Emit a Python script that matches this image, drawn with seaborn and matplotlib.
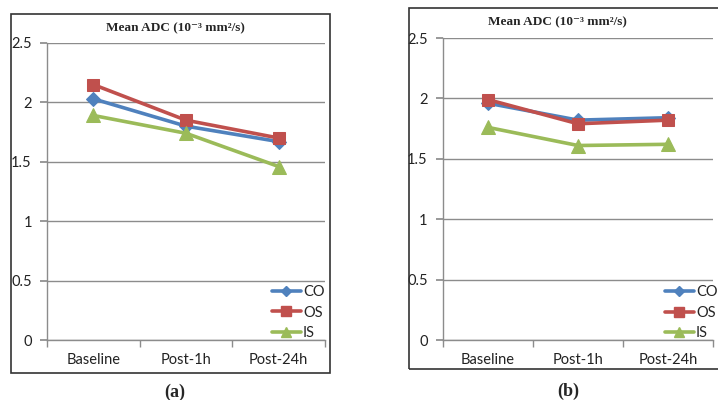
import matplotlib
matplotlib.use("Agg")
import matplotlib.pyplot as plt
import seaborn as sns
import pandas as pd
from matplotlib.patches import Rectangle
from matplotlib.lines import Line2D

sns.set_theme(style="white")
plt.rcParams['font.family'] = ['Lato', 'DejaVu Sans']

categories = ["Baseline", "Post-1h", "Post-24h"]
series = ["CO", "OS", "IS"]

a_CO = [2.03, 1.80, 1.67]
a_OS = [2.15, 1.85, 1.70]
a_IS = [1.89, 1.74, 1.46]

b_CO = [1.96, 1.82, 1.84]
b_OS = [1.99, 1.79, 1.82]
b_IS = [1.76, 1.61, 1.62]

yticks = [0, 0.5, 1, 1.5, 2, 2.5]
ytick_labels = ["0", "0.5", "1", "1.5", "2", "2.5"]
title = "Mean ADC (10\u207b\u00b3 mm\u00b2/s)"
panel_labels = ["(a)", "(b)"]

colors = {"CO": "#4F81BD", "OS": "#C0504D", "IS": "#9BBB59"}
markers = {"CO": "D", "OS": "s", "IS": "^"}
msizes = {"CO": 7, "OS": 9, "IS": 10}


def make_df(co, os_, is_):
    rows = []
    for name, vals in zip(series, [co, os_, is_]):
        for c, v in zip(categories, vals):
            rows.append({"time": c, "series": name, "value": v})
    return pd.DataFrame(rows)


fig = plt.figure(figsize=(7.18, 4.0), dpi=100)

# frames
fig.patches.append(Rectangle((0.0153, 0.0675), 0.444, 0.8975, transform=fig.transFigure,
                             fill=False, edgecolor="#333333", linewidth=1.2))
fig.patches.append(Rectangle((0.5696, 0.0775), 0.48, 0.9025, transform=fig.transFigure,
                             fill=False, edgecolor="#333333", linewidth=1.2))

ax_a = fig.add_axes([0.0655, 0.15, 0.3872, 0.7425])
ax_b = fig.add_axes([0.617, 0.15, 0.376, 0.755])

panels = [(ax_a, make_df(a_CO, a_OS, a_IS), (1.03, -0.03)),
          (ax_b, make_df(b_CO, b_OS, b_IS), (1.05, -0.03))]

for i, (ax, df, anchor) in enumerate(panels):
    for name in series:
        sub = df[df["series"] == name]
        sns.lineplot(data=sub, x="time", y="value", ax=ax, color=colors[name],
                     marker=markers[name], markersize=msizes[name],
                     markeredgecolor=colors[name], linewidth=2.6, sort=False,
                     legend=False, zorder=3)
    ax.set_xlim(-0.5, 2.5)
    ax.set_ylim(0, 2.5)
    ax.set_yticks(yticks)
    ax.set_yticklabels(ytick_labels)
    ax.set_xticks([0, 1, 2])
    ax.set_xticklabels(categories)
    ax.set_xlabel("")
    ax.set_ylabel("")
    ax.grid(axis="y", color="#8c8c8c", linewidth=1.0)
    ax.set_axisbelow(True)
    for s in ["top", "right"]:
        ax.spines[s].set_visible(False)
    for s in ["left", "bottom"]:
        ax.spines[s].set_color("#8c8c8c")
        ax.spines[s].set_linewidth(1.0)
    ax.tick_params(axis="y", length=5, color="#8c8c8c", direction="out",
                   labelsize=10.5, pad=6, left=True)
    ax.tick_params(axis="x", length=0, labelsize=10.5, pad=9)
    ax.set_xticks([-0.5, 0.5, 1.5, 2.5], minor=True)
    ax.tick_params(axis="x", which="minor", length=5, color="#8c8c8c",
                   direction="out", bottom=True)
    for lbl in ax.get_yticklabels() + ax.get_xticklabels():
        lbl.set_color("#222222")

    handles = [Line2D([], [], color=colors[n], marker=markers[n],
                      markersize=msizes[n] * 0.75, linewidth=2.6, label=n)
               for n in series]
    ax.legend(handles=handles, loc="lower right", bbox_to_anchor=anchor,
              frameon=False, fontsize=10.5, handlelength=2.0, handletextpad=0.15,
              labelspacing=0.45, borderaxespad=0.2)

tfam = ["Liberation Serif", "DejaVu Serif"]
fig.text(0.245, 0.93, title, ha="center", va="center", fontsize=9.5,
         fontweight="bold", family=tfam)
fig.text(0.777, 0.945, title, ha="center", va="center", fontsize=9.5,
         fontweight="bold", family=tfam)
fig.text(0.243, 0.02, panel_labels[0], ha="center", va="center", fontsize=13,
         fontweight="bold", family=tfam)
fig.text(0.791, 0.022, panel_labels[1], ha="center", va="center", fontsize=13,
         fontweight="bold", family=tfam)

fig.savefig("out.png", dpi=100, facecolor="white")
